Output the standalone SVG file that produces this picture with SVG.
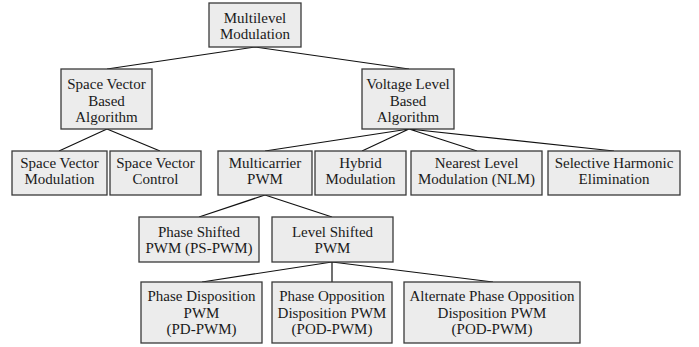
<svg xmlns="http://www.w3.org/2000/svg" width="699" height="347" viewBox="0 0 699 347">
<style>
.box{fill:#ececec;stroke:#3a3a3a;stroke-width:1.3}
.t{font-family:'Liberation Serif','DejaVu Serif',serif;font-size:15px;fill:#1a1a1a;text-anchor:middle}
.ln{stroke:#111;stroke-width:1.2;fill:none}
</style>
<rect width="699" height="347" fill="#fff"/>
<g id="connectors">
<path class="ln" d="M255,47 L107,69 M255,47 L409,69"/>
<path class="ln" d="M107,129 L59,151 M107,129 L160,151"/>
<path class="ln" d="M409,129 L265,151 M409,129 L362,151 M409,129 L477,151 M409,129 L614,151"/>
<path class="ln" d="M265,195 L199,217 M265,195 L332,217"/>
<path class="ln" d="M332,262 L202,282 M332,262 L332,282 M332,262 L493,282"/>
</g>
<g font-family="Liberation Serif, DejaVu Serif, serif">
<g id="n-multilevel"><rect class="box" x="209" y="3" width="92" height="44"/><text class="t" x="255" y="23">Multilevel</text><text class="t" x="255" y="39">Modulation</text></g>
<g id="n-svb"><rect class="box" x="61" y="69" width="91" height="60"/><text class="t" x="106.5" y="89">Space Vector</text><text class="t" x="106.5" y="105.5">Based</text><text class="t" x="106.5" y="122">Algorithm</text></g>
<g id="n-vlb"><rect class="box" x="362" y="69" width="92" height="60"/><text class="t" x="408" y="89">Voltage Level</text><text class="t" x="408" y="105.5">Based</text><text class="t" x="408" y="122">Algorithm</text></g>
<g id="n-svm"><rect class="box" x="12" y="151" width="95" height="44"/><text class="t" x="59.5" y="168">Space Vector</text><text class="t" x="59.5" y="184">Modulation</text></g>
<g id="n-svc"><rect class="box" x="110" y="151" width="91" height="44"/><text class="t" x="155.5" y="168">Space Vector</text><text class="t" x="155.5" y="184">Control</text></g>
<g id="n-multicarrier"><rect class="box" x="218" y="151" width="94" height="44"/><text class="t" x="265" y="168">Multicarrier</text><text class="t" x="265" y="184">PWM</text></g>
<g id="n-hybrid"><rect class="box" x="315" y="151" width="91" height="44"/><text class="t" x="360.5" y="168">Hybrid</text><text class="t" x="360.5" y="184">Modulation</text></g>
<g id="n-nlm"><rect class="box" x="411" y="151" width="131" height="44"/><text class="t" x="476.5" y="168">Nearest Level</text><text class="t" x="476.5" y="184">Modulation (NLM)</text></g>
<g id="n-she"><rect class="box" x="548" y="151" width="132" height="44"/><text class="t" x="614" y="168">Selective Harmonic</text><text class="t" x="614" y="184">Elimination</text></g>
<g id="n-ps"><rect class="box" x="139" y="217" width="120" height="45"/><text class="t" x="199" y="237">Phase Shifted</text><text class="t" x="199" y="253">PWM (PS-PWM)</text></g>
<g id="n-ls"><rect class="box" x="272" y="217" width="121" height="45"/><text class="t" x="332.5" y="237">Level Shifted</text><text class="t" x="332.5" y="253">PWM</text></g>
<g id="n-pd"><rect class="box" x="141" y="282" width="121" height="61"/><text class="t" x="201.5" y="301">Phase Disposition</text><text class="t" x="201.5" y="317.5">PWM</text><text class="t" x="201.5" y="334">(PD-PWM)</text></g>
<g id="n-pod"><rect class="box" x="272" y="282" width="120" height="61"/><text class="t" x="332" y="301">Phase Opposition</text><text class="t" x="332" y="317.5">Disposition PWM</text><text class="t" x="332" y="334">(POD-PWM)</text></g>
<g id="n-apod"><rect class="box" x="404" y="282" width="176" height="61"/><text class="t" x="492" y="301">Alternate Phase Opposition</text><text class="t" x="492" y="317.5">Disposition PWM</text><text class="t" x="492" y="334">(POD-PWM)</text></g>
</g>
</svg>
